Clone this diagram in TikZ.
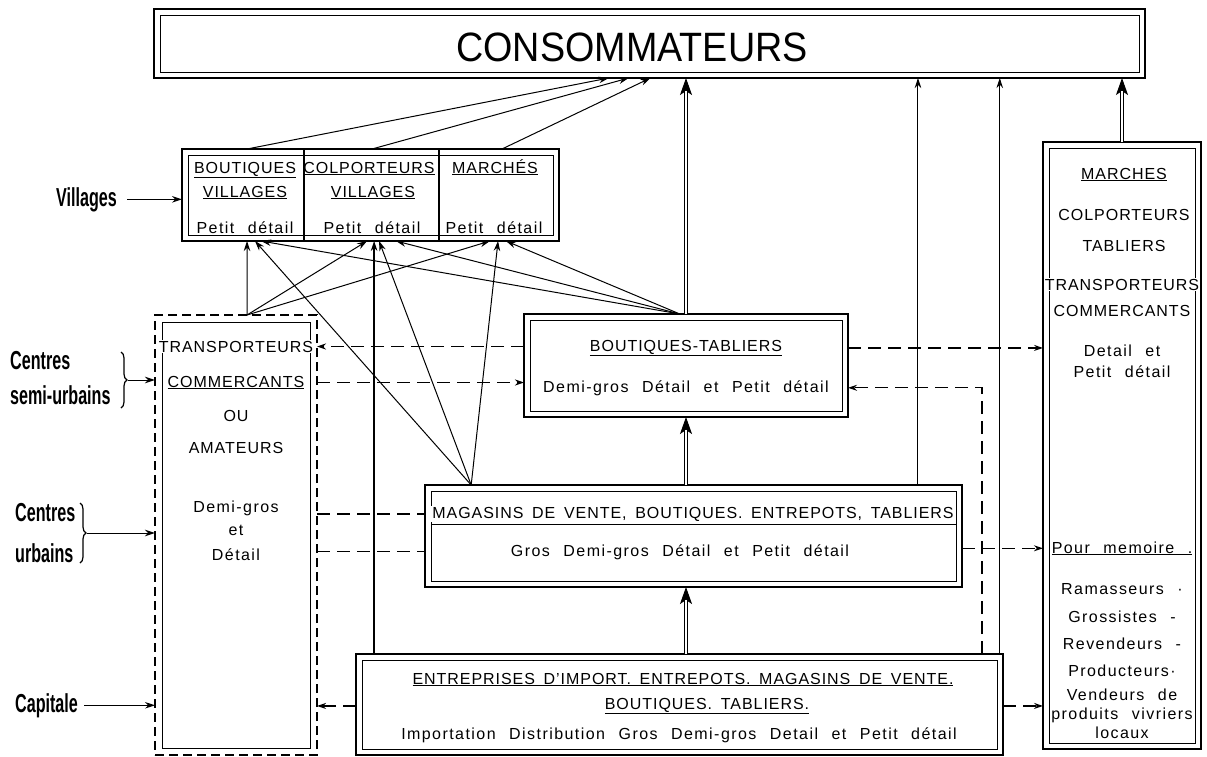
\documentclass[tikz,border=0pt]{standalone}
\usepackage{fontspec}
\setmainfont{Liberation Sans}[LetterSpace=6,WordSpace=1.6]
\newfontfamily\lcfont{Liberation Sans}[LetterSpace=9,WordSpace=2.3]
\newfontfamily\lblfont{Liberation Sans}[FakeStretch=0.62]
\newfontfamily\consfont{Liberation Sans}[FakeStretch=0.92]
\usetikzlibrary{arrows.meta,calc,decorations.pathreplacing}

\begin{document}
\begin{tikzpicture}[x=1pt,y=-1pt,
  box/.style={draw,line width=2.6pt,anchor=north west,inner sep=0pt,outer sep=0pt},
  dbox/.style={draw,line width=1.8pt,dash pattern=on 9pt off 5pt,anchor=north west,inner sep=0pt,outer sep=0pt},
  inner/.style={line width=0.9pt},
  txt/.style={anchor=base,inner sep=0pt,font=\fontsize{16}{18}\selectfont},
  ltxt/.style={txt,font=\lcfont\fontsize{16}{18}\selectfont},
  lbl/.style={anchor=base west,inner sep=0pt,font=\lblfont\bfseries\fontsize{26}{28}\selectfont},
  arr/.style={line width=1pt,-{Stealth[length=10pt,width=6.5pt]}},
  dbl/.style={line width=1pt,-{Stealth[length=17pt,width=12pt,inset=4pt]},
    postaction={draw,-,double,double distance=2.6pt,line width=1pt,shorten >=13pt}},
  dsh/.style={line width=1.3pt,dash pattern=on 13pt off 7pt},
  dsharr/.style={dsh,-{Stealth[length=9pt,width=6pt]}},
  brc/.style={line width=1.2pt,decorate,decoration={brace,amplitude=6pt}}]
  \fill[white] (0,0) rectangle (1207,756);
  \useasboundingbox (0,0) rectangle (1207,756);

  % boxes
  \node[box,minimum width=991pt,minimum height=69pt] (cons) at (154,9) {};
  \node[box,minimum width=122pt,minimum height=92pt] (vilB) at (182,149) {};
  \node[box,minimum width=135pt,minimum height=92pt] (vilC) at (304,149) {};
  \node[box,minimum width=120pt,minimum height=92pt] (vilM) at (439,149) {};
  \node[dbox,minimum width=162pt,minimum height=440pt] (ctr) at (155,315) {};
  \node[box,minimum width=324pt,minimum height=103pt] (bt) at (524,314) {};
  \node[box,minimum width=537pt,minimum height=102pt] (mag) at (425,485) {};
  \node[box,minimum width=647pt,minimum height=101pt] (ent) at (356,654) {};
  \node[box,minimum width=158pt,minimum height=607pt] (mar) at (1043,142) {};

  % inner frames
  \draw[inner] ([shift={(6pt,-6pt)}]cons.north west) rectangle ([shift={(-6pt,6pt)}]cons.south east);
  \draw[inner] ([shift={(6pt,-6pt)}]vilB.north west) rectangle ([shift={(-6pt,6pt)}]vilM.south east);
  \draw[inner] ([shift={(7pt,-7pt)}]ctr.north west) rectangle ([shift={(-7pt,7pt)}]ctr.south east);
  \draw[inner] ([shift={(6pt,-6pt)}]bt.north west) rectangle ([shift={(-6pt,6pt)}]bt.south east);
  \draw[inner] ([shift={(6pt,-6pt)}]mag.north west) rectangle ([shift={(-6pt,6pt)}]mag.south east);
  \draw[inner] ([shift={(6pt,-39pt)}]mag.north west) -- ([shift={(-6pt,-39pt)}]mag.north east);
  \draw[inner] ([shift={(6pt,-6pt)}]ent.north west) rectangle ([shift={(-6pt,6pt)}]ent.south east);
  \draw[inner] ([shift={(6pt,-6pt)}]mar.north west) rectangle ([shift={(-6pt,6pt)}]mar.south east);

  % texts
  \node[font=\consfont\fontsize{41}{44}\selectfont,inner sep=0pt] (consT) at (632,47) {CONSOMMATEURS};
  \node[txt] (vilB1) at (245,173) {\underline{BOUTIQUES}};
  \node[txt] (vilB2) at (245,197) {\underline{VILLAGES}};
  \node[ltxt] (vilB3) at (245,233) {Petit détail};
  \node[txt] (vilC1) at (369,173) {\underline{COLPORTEURS}};
  \node[txt] (vilC2) at (373,197) {\underline{VILLAGES}};
  \node[ltxt] (vilC3) at (372,233) {Petit détail};
  \node[txt] (vilM1) at (495,173) {\underline{MARCHÉS}};
  \node[ltxt] (vilM3) at (494,233) {Petit détail};

  \node[txt,fill=white,inner sep=1pt] (ctr1) at (236,352) {TRANSPORTEURS};
  \node[txt] (ctr2) at (236,387) {\underline{COMMERCANTS}};
  \node[txt] (ctr3) at (236,421) {OU};
  \node[txt] (ctr4) at (236,453) {AMATEURS};
  \node[ltxt] (ctr5) at (236,512) {Demi-gros};
  \node[ltxt] (ctr6) at (236,535) {et};
  \node[ltxt] (ctr7) at (236,560) {Détail};

  \node[txt] (bt1) at (686,351) {\underline{BOUTIQUES-TABLIERS}};
  \node[ltxt] (bt2) at (686,392) {Demi-gros Détail et Petit détail};

  \node[txt,fill=white,inner sep=1pt] (mag1) at (693,518) {MAGASINS DE VENTE, BOUTIQUES. ENTREPOTS, TABLIERS};
  \node[ltxt] (mag2) at (680,556) {Gros Demi-gros Détail et Petit détail};

  \node[txt] (ent1) at (683,684) {\underline{ENTREPRISES D'IMPORT. ENTREPOTS. MAGASINS DE VENTE.}};
  \node[txt] (ent2) at (707,709) {\underline{BOUTIQUES. TABLIERS.}};
  \node[ltxt] (ent3) at (679,739) {Importation Distribution Gros Demi-gros Detail et Petit détail};

  \node[txt] (mar1) at (1124,179) {\underline{MARCHES}};
  \node[txt] (mar2) at (1124,220) {COLPORTEURS};
  \node[txt] (mar3) at (1124,251) {TABLIERS};
  \node[txt,fill=white,inner sep=1pt] (mar4) at (1122,290) {TRANSPORTEURS};
  \node[txt] (mar5) at (1122,316) {COMMERCANTS};
  \node[ltxt] (mar6) at (1122,356) {Detail et};
  \node[ltxt] (mar7) at (1122,377) {Petit détail};
  \node[ltxt] (mar8) at (1122,553) {\underline{Pour memoire .}};
  \node[ltxt] (mar9) at (1122,594) {Ramasseurs ·};
  \node[ltxt] (mar10) at (1122,622) {Grossistes -};
  \node[ltxt] (mar11) at (1122,649) {Revendeurs -};
  \node[ltxt] (mar12) at (1122,676) {Producteurs·};
  \node[ltxt] (mar13) at (1122,700) {Vendeurs de};
  \node[ltxt] (mar14) at (1122,719) {produits vivriers};
  \node[ltxt] (mar15) at (1122,738) {locaux};

  % left labels
  \node[lbl] (lblV) at (56,206) {Villages};
  \node[lbl] (lblS1) at (10,369) {Centres};
  \node[lbl] (lblS2) at (10,404) {semi-urbains};
  \node[lbl] (lblU1) at (15,521) {Centres};
  \node[lbl] (lblU2) at (15,562) {urbains};
  \node[lbl] (lblC) at (15,712) {Capitale};
  \draw[brc] (121,352) -- (121,408);
  \coordinate (brS) at (128,380);
  \draw[brc] (80,503) -- (80,563);
  \coordinate (brU) at (87,533);
  \draw[arr] ([xshift=10pt]lblV.east) -- (lblV.east -| vilB.west);
  \draw[arr] (brS) -- (brS -| ctr.west);
  \draw[arr] (brU) -- (brU -| ctr.west);
  \draw[arr] ([xshift=6pt]lblC.east) -- (lblC.east -| ctr.west);

  % villages to consommateurs
  \draw[arr] ($(vilB.north west)!.533!(vilB.north east)$) -- ($(cons.south west)!.459!(cons.south east)$);
  \draw[arr] ($(vilC.north west)!.504!(vilC.north east)$) -- ($(cons.south west)!.479!(cons.south east)$);
  \draw[arr] ($(vilM.north west)!.525!(vilM.north east)$) -- ($(cons.south west)!.501!(cons.south east)$);

  % supply of the villages
  \foreach \s/\a/\t/\b in {ctr/.568/vilB/.533, ctr/.568/vilC/.467, ctr/.568/vilM/.425,
      mag/.086/vilB/.598, mag/.086/vilC/.556, mag/.086/vilM/.492,
      bt/.481/vilB/.648, bt/.481/vilC/.681, bt/.481/vilM/.558}
    \draw[arr] ($(\s.north west)!\a!(\s.north east)$) -- ($(\t.south west)!\b!(\t.south east)$);
  \coordinate (eV) at ($(ent.north west)!.028!(ent.north east)$);
  \draw[arr,line width=1.8pt] (eV) -- (eV |- vilC.south);

  % main flows
  \draw[dbl] (bt.north) -- (bt.north |- cons.south);
  \draw[dbl] (bt.south |- mag.north) -- (bt.south);
  \draw[dbl] (bt.south |- ent.north) -- (bt.south |- mag.south);
  \draw[dbl] (mar.north) -- (mar.north |- cons.south);
  \coordinate (mUp) at ($(mag.north west)!.918!(mag.north east)$);
  \coordinate (eUp) at ($(ent.north west)!.995!(ent.north east)$);
  \draw[arr] (mUp) -- (mUp |- cons.south);
  \draw[arr] (eUp) -- (eUp |- cons.south);

  % dashed links
  \draw[dsharr] (bt.west |- ctr1) -- (ctr.east |- ctr1);
  \draw[dsharr] (ctr.east |- ctr2) -- (bt.west |- ctr2);
  \draw[dsh] (ctr.east |- mag1) -- (mag.west |- mag1);
  \draw[dsh] (ctr.east |- mag2) -- (mag.west |- mag2);
  \draw[dsharr] (ent.west |- ent2) -- (ctr.east |- ent2);
  \draw[dsharr] (bt.east |- bt1) -- (mar.west |- bt1);
  \coordinate (dk) at ($(ent.north west)!.9675!(ent.north east)$);
  \draw[dsharr] (dk) |- (bt.east |- bt2);
  \draw[dsharr] (mag.east |- mar8) -- (mar.west |- mar8);
  \draw[dsharr] (ent.east |- ent2) -- (mar.west |- ent2);
\end{tikzpicture}
\end{document}
